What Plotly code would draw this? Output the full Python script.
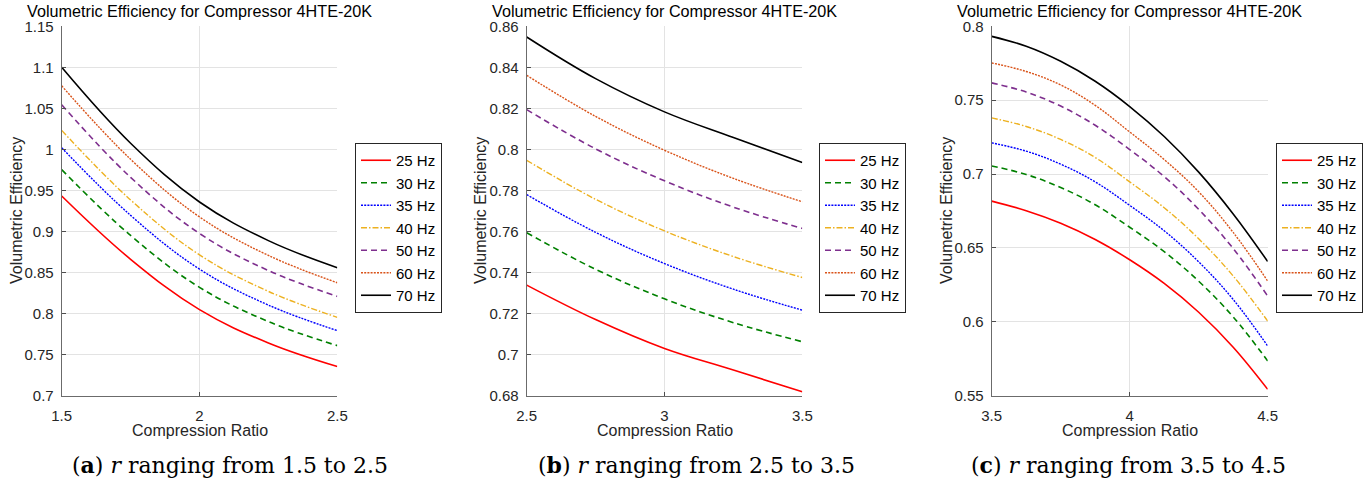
import plotly.graph_objects as go

# ---------------- data ----------------
freq_labels = ["25 Hz", "30 Hz", "35 Hz", "40 Hz", "50 Hz", "60 Hz", "70 Hz"]

# panel (a): r from 1.5 to 2.5
r_a = [1.5, 1.75, 2.0, 2.25, 2.5]
eff_a_25 = [0.9433, 0.8662, 0.8048, 0.7642, 0.7355]
eff_a_30 = [0.9754, 0.8952, 0.8320, 0.7903, 0.7610]
eff_a_35 = [1.0021, 0.9197, 0.8542, 0.8104, 0.7793]
eff_a_40 = [1.0232, 0.9385, 0.8716, 0.8271, 0.7955]
eff_a_50 = [1.0544, 0.9660, 0.8976, 0.8525, 0.8210]
eff_a_60 = [1.0775, 0.9880, 0.9178, 0.8709, 0.8376]
eff_a_70 = [1.1000, 1.0075, 0.9360, 0.8889, 0.8560]

# panel (b): r from 2.5 to 3.5
r_b = [2.5, 2.75, 3.0, 3.25, 3.5]
eff_b_25 = [0.7339, 0.7171, 0.7030, 0.6925, 0.6819]
eff_b_30 = [0.7594, 0.7416, 0.7272, 0.7156, 0.7063]
eff_b_35 = [0.7780, 0.7596, 0.7444, 0.7319, 0.7217]
eff_b_40 = [0.7947, 0.7757, 0.7603, 0.7478, 0.7376]
eff_b_50 = [0.8194, 0.8003, 0.7847, 0.7719, 0.7615]
eff_b_60 = [0.8361, 0.8161, 0.7996, 0.7859, 0.7745]
eff_b_70 = [0.8548, 0.8345, 0.8183, 0.8058, 0.7936]

# panel (c): r from 3.5 to 4.5
r_c = [3.5, 3.625, 3.75, 3.875, 4.0, 4.125, 4.25, 4.375, 4.5]
eff_c_25 = [0.6817, 0.6752, 0.6667, 0.6557, 0.6420, 0.6260, 0.6065, 0.5828, 0.5543]
eff_c_30 = [0.7055, 0.6997, 0.6909, 0.6792, 0.6640, 0.6475, 0.6275, 0.6033, 0.5735]
eff_c_35 = [0.7211, 0.7155, 0.7067, 0.6947, 0.6788, 0.6616, 0.6406, 0.6151, 0.5836]
eff_c_40 = [0.7380, 0.7322, 0.7234, 0.7112, 0.6947, 0.6772, 0.6562, 0.6310, 0.6005]
eff_c_50 = [0.7617, 0.7555, 0.7460, 0.7330, 0.7166, 0.6983, 0.6761, 0.6496, 0.6174]
eff_c_60 = [0.7752, 0.7694, 0.7603, 0.7465, 0.7285, 0.7098, 0.6880, 0.6605, 0.6276]
eff_c_70 = [0.7932, 0.7865, 0.7763, 0.7628, 0.7457, 0.7254, 0.7013, 0.6730, 0.6408]

x_ticks_a = [1.5, 2, 2.5]
x_ticks_b = [2.5, 3, 3.5]
x_ticks_c = [3.5, 4, 4.5]
y_range_a = [0.7, 1.15]
y_range_b = [0.68, 0.86]
y_range_c = [0.55, 0.8]
y_dtick = [0.05, 0.02, 0.05]

title_text = "Volumetric Efficiency for Compressor 4HTE-20K"
x_title = "Compression Ratio"
y_title = "Volumetric Efficiency"
captions = [
    "(<b>a</b>) <i>r</i> ranging from 1.5 to 2.5",
    "(<b>b</b>) <i>r</i> ranging from 2.5 to 3.5",
    "(<b>c</b>) <i>r</i> ranging from 3.5 to 4.5",
]

# ---------------- styles ----------------
colors = ["#FF0000", "#008000", "#0000FF", "#EDB120", "#7E2F8E", "#D95319", "#000000"]
dashes = ["solid", "6px,4px", "2px,1.2px", "6px,2px,1.5px,2px", "6px,4px", "2px,1.2px", "solid"]
widths = [1.6, 1.6, 1.4, 1.4, 1.6, 1.4, 1.6]

W, H = 1365, 493
font_sans = "Liberation Sans, Arial, sans-serif"
font_serif = "DejaVu Serif, serif"

panels = [
    (r_a, [eff_a_25, eff_a_30, eff_a_35, eff_a_40, eff_a_50, eff_a_60, eff_a_70], x_ticks_a, y_range_a),
    (r_b, [eff_b_25, eff_b_30, eff_b_35, eff_b_40, eff_b_50, eff_b_60, eff_b_70], x_ticks_b, y_range_b),
    (r_c, [eff_c_25, eff_c_30, eff_c_35, eff_c_40, eff_c_50, eff_c_60, eff_c_70], x_ticks_c, y_range_c),
]
# plot-area pixel boxes (left, right)
px_lr = [(61.7, 337.3), (526.7, 802.3), (991.7, 1267.7)]
px_top, px_bot = 26.3, 395.7
legend_x = [355, 819, 1276]
legend_top = 143
ytitle_x = [16, 480, 946]

fig = go.Figure()
legend_names = ["legend", "legend2", "legend3"]

for p, (xs, ys_list, xt, yr) in enumerate(panels):
    xa = "x" if p == 0 else f"x{p+1}"
    ya = "y" if p == 0 else f"y{p+1}"
    for i, ys in enumerate(ys_list):
        fig.add_trace(go.Scatter(
            x=xs, y=ys, mode="lines", name=freq_labels[i],
            line=dict(color=colors[i], dash=dashes[i], width=widths[i], shape="spline", smoothing=1.1),
            xaxis=xa, yaxis=ya, legend=legend_names[p], showlegend=True,
        ))

layout = dict(
    template="none",
    width=W, height=H,
    margin=dict(l=0, r=0, t=0, b=0, pad=0),
    paper_bgcolor="white", plot_bgcolor="white",
    font=dict(family=font_sans, size=15, color="#262626"),
)

axis_common = dict(
    automargin=False,
    showline=True, linecolor="#6b6b6b", linewidth=1,
    ticks="inside", ticklen=4, tickcolor="#4d4d4d", tickwidth=1,
    showgrid=True, gridcolor="#E3E3E3", gridwidth=1,
    zeroline=False, mirror=False,
    tickfont=dict(family=font_sans, size=15, color="#262626"),
)

for p, (xs, ys_list, xt, yr) in enumerate(panels):
    l, r = px_lr[p]
    xkey = "xaxis" if p == 0 else f"xaxis{p+1}"
    ykey = "yaxis" if p == 0 else f"yaxis{p+1}"
    xa = "x" if p == 0 else f"x{p+1}"
    ya = "y" if p == 0 else f"y{p+1}"
    layout[xkey] = dict(
        axis_common,
        domain=[l / W, r / W], anchor=ya,
        range=[xt[0], xt[-1]], tickvals=xt, ticktext=[f"{v:g}" for v in xt],
        ticklabelstandoff=6,
    )
    layout[ykey] = dict(
        axis_common,
        domain=[(H - px_bot) / H, (H - px_top) / H], anchor=xa,
        range=yr, dtick=y_dtick[p], tick0=yr[0],
        ticklabelstandoff=4,
    )
    layout[legend_names[p]] = dict(
        x=legend_x[p] / W, xanchor="left",
        y=(H - legend_top) / H, yanchor="top",
        bgcolor="white", bordercolor="#262626", borderwidth=1,
        font=dict(family=font_sans, size=15, color="#000000"),
        tracegroupgap=0, itemwidth=30,
    )

annotations = []
for p in range(3):
    l, r = px_lr[p]
    cx = (l + r) / 2
    annotations.append(dict(
        text=title_text, x=cx / W, y=(H - 0.5) / H, xref="paper", yref="paper",
        showarrow=False, xanchor="center", yanchor="top", borderpad=0,
        font=dict(family=font_sans, size=16.2, color="#000000"),
    ))
    annotations.append(dict(
        text=x_title, x=cx / W, y=(H - 430) / H, xref="paper", yref="paper",
        showarrow=False, xanchor="center", yanchor="middle",
        font=dict(family=font_sans, size=16, color="#262626"),
    ))
    annotations.append(dict(
        text=y_title, x=ytitle_x[p] / W, y=(H - (px_top + px_bot) / 2) / H, xref="paper", yref="paper",
        showarrow=False, xanchor="center", yanchor="middle", textangle=-90,
        font=dict(family=font_sans, size=16, color="#262626"),
    ))
cap_cx = [230, 696, 1128]
for p in range(3):
    annotations.append(dict(
        text=captions[p], x=cap_cx[p] / W, y=(H - 465) / H, xref="paper", yref="paper",
        showarrow=False, xanchor="center", yanchor="middle",
        font=dict(family=font_serif, size=22, color="#000000"),
    ))
layout["annotations"] = annotations

fig.update_layout(**layout)
fig.write_html("out.html")
